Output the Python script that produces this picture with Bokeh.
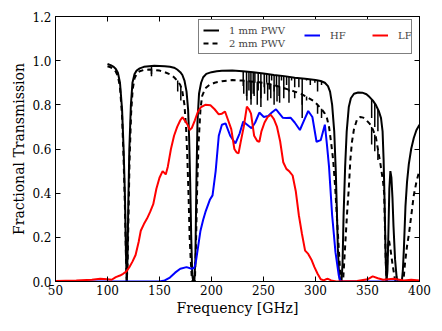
from bokeh.plotting import figure
from bokeh.models import (LinearAxis, Legend, LegendItem, PrintfTickFormatter, FixedTicker, Range1d,
                          CustomLabelingPolicy)
from bokeh.embed import file_html
from bokeh.resources import INLINE

# ---------------- data ----------------
pwv1_freq = [100, 103, 106, 108, 110, 112, 114, 115.5, 116.8, 117.8, 118.5, 119.2, 120, 121, 122.5, 124, 126, 128,
             131, 135, 140, 145, 150, 155, 160, 164, 167, 170, 172, 174, 176, 177.5, 178.5, 179.5, 180.5, 181.5,
             182.5, 183.5, 184.5, 185.5, 186.5, 188, 190, 192, 195, 200, 205, 210, 220, 230, 240, 250, 260, 270,
             280, 290, 300, 305, 309, 312, 314, 316, 318, 319.5, 320.5, 321.5, 322.5, 323.5, 325, 326, 327, 328.5,
             330, 332, 334, 337, 341, 345, 349, 352, 355, 358, 361, 363, 364.5, 365.5, 366.5, 367.5, 368.3, 369.2,
             370, 371, 372, 373, 374, 375, 376.5, 378, 379, 383, 384, 385, 386.5, 388, 389.7, 392, 394.5, 397, 400]
pwv1_trans = [0.985, 0.98, 0.972, 0.962, 0.945, 0.90, 0.78, 0.6, 0.38, 0.12, 0.0, 0.1, 0.35, 0.6, 0.8, 0.9, 0.94, 0.955,
              0.965, 0.972, 0.975, 0.977, 0.976, 0.975, 0.972, 0.968, 0.96, 0.948, 0.935, 0.91, 0.86, 0.78, 0.65, 0.45,
              0.2, 0.03, 0.0, 0.0, 0.1, 0.45, 0.72, 0.85, 0.9, 0.925, 0.94, 0.948, 0.952, 0.954, 0.955, 0.952, 0.948,
              0.942, 0.935, 0.93, 0.923, 0.918, 0.912, 0.908, 0.9, 0.885, 0.86, 0.8, 0.68, 0.5, 0.33, 0.15, 0.05, 0.0,
              0.0, 0.08, 0.3, 0.52, 0.68, 0.79, 0.83, 0.85, 0.856, 0.855, 0.848, 0.835, 0.82, 0.8, 0.77, 0.74, 0.68,
              0.55, 0.35, 0.1, 0.0, 0.05, 0.2, 0.42, 0.5, 0.47, 0.38, 0.25, 0.1, 0.02, 0.0, 0.0, 0.05, 0.15, 0.34,
              0.45, 0.53, 0.6, 0.65, 0.685, 0.71]

pwv2_freq = [100, 103, 106, 108, 110, 112, 114, 115.5, 116.8, 117.8, 118.5, 119.3, 120.2, 121.2, 122.7, 124.2, 126,
             128, 131, 135, 140, 145, 150, 155, 160, 164, 167, 170, 172, 174, 175.5, 176.7, 178, 179, 180, 181, 182,
             184, 185, 186.2, 187.5, 189.4, 191, 194, 198, 203, 210, 220, 230, 240, 250, 260, 270, 280, 286, 292,
             298, 302, 306, 309, 311, 313, 315, 317, 319, 320.5, 322, 323.5, 324.5, 326.5, 327.5, 329, 330.5, 332,
             333.5, 335, 337, 340, 343, 346, 349, 352, 355, 358, 360, 362.5, 365, 366, 367.5, 368.3, 369.2, 370.5,
             372, 374, 376, 377, 384.5, 386, 388, 390, 394.5, 397, 400]
pwv2_trans = [0.975, 0.97, 0.962, 0.95, 0.93, 0.88, 0.75, 0.55, 0.33, 0.1, 0.0, 0.08, 0.3, 0.55, 0.76, 0.87, 0.92,
              0.94, 0.952, 0.958, 0.96, 0.958, 0.955, 0.948, 0.938, 0.925, 0.91, 0.89, 0.86, 0.8, 0.7, 0.57, 0.38,
              0.2, 0.1, 0.02, 0.0, 0.0, 0.15, 0.42, 0.62, 0.78, 0.84, 0.875, 0.89, 0.9, 0.907, 0.912, 0.91, 0.905,
              0.9, 0.89, 0.875, 0.86, 0.85, 0.835, 0.818, 0.8, 0.78, 0.76, 0.74, 0.7, 0.63, 0.55, 0.42, 0.3, 0.18,
              0.06, 0.0, 0.0, 0.08, 0.2, 0.32, 0.42, 0.55, 0.63, 0.69, 0.735, 0.745, 0.742, 0.73, 0.715, 0.69, 0.655,
              0.6, 0.53, 0.45, 0.4, 0.1, 0.0, 0.12, 0.19, 0.15, 0.08, 0.02, 0.0, 0.0, 0.08, 0.16, 0.22, 0.39, 0.45,
              0.505]

# narrow absorption lines (frequency, continuum level, line bottom)
pwv1_line_freq = [142.3, 230.5, 233.7, 236.0, 237.9, 240.1, 241.7, 244.9, 247.5, 250.7, 253.0, 255.5, 257.8, 260.2,
                  262.5, 265.0, 267.3, 269.5, 272.2, 274.5, 277.0, 280.0, 284.0, 287.2, 291.4, 295.0, 299.4, 302.0,
                  305.8, 354.0, 357.0, 360.0]
pwv1_line_top = [0.977, 0.952, 0.951, 0.95, 0.949, 0.948, 0.947, 0.945, 0.944, 0.942, 0.94, 0.939, 0.938, 0.935,
                 0.934, 0.933, 0.932, 0.93, 0.929, 0.928, 0.926, 0.923, 0.921, 0.92, 0.917, 0.915, 0.912, 0.911,
                 0.908, 0.825, 0.805, 0.78]
pwv1_line_bottom = [0.94, 0.885, 0.84, 0.865, 0.825, 0.85, 0.90, 0.865, 0.83, 0.88, 0.90, 0.87, 0.91, 0.86, 0.88,
                    0.84, 0.91, 0.87, 0.89, 0.86, 0.91, 0.88, 0.88, 0.80, 0.91, 0.89, 0.90, 0.86, 0.89, 0.74, 0.70,
                    0.68]

pwv2_line_freq = [142.3, 167.5, 170.5, 231, 234, 238, 241, 244, 247.5, 251, 254, 257, 260.2, 263, 265.5, 269.5,
                  274.5, 280, 287.2, 291.4, 302, 305.8, 354, 357, 360]
pwv2_line_top = [0.958, 0.91, 0.885, 0.91, 0.909, 0.906, 0.905, 0.904, 0.902, 0.9, 0.897, 0.894, 0.89, 0.886, 0.883,
                 0.877, 0.87, 0.86, 0.848, 0.838, 0.80, 0.782, 0.70, 0.665, 0.6]
pwv2_line_bottom = [0.93, 0.86, 0.82, 0.85, 0.82, 0.80, 0.84, 0.80, 0.79, 0.85, 0.82, 0.83, 0.80, 0.815, 0.81, 0.83,
                    0.81, 0.83, 0.74, 0.82, 0.76, 0.74, 0.62, 0.59, 0.55]

hf_freq = [50, 150, 155, 160, 165, 170, 176, 181, 183.5, 185, 189.4, 192, 194.2, 198.4, 201, 204, 207, 210, 213.5,
           218, 223, 227, 230.5, 234.3, 238.5, 242, 246, 250.3, 254.5, 258, 262, 265, 268.5, 272, 276, 280, 285,
           289, 293, 297, 301, 305, 309, 311, 313, 316, 319.2, 322.4, 324, 400]
hf_trans = [0.0, 0.0, 0.005, 0.018, 0.04, 0.058, 0.065, 0.058, 0.062, 0.09, 0.23, 0.28, 0.315, 0.37, 0.39, 0.5,
            0.66, 0.71, 0.716, 0.66, 0.625, 0.67, 0.724, 0.71, 0.694, 0.72, 0.765, 0.745, 0.75, 0.765, 0.78, 0.762,
            0.742, 0.74, 0.742, 0.72, 0.686, 0.73, 0.772, 0.745, 0.633, 0.64, 0.71, 0.62, 0.52, 0.3, 0.133, 0.027,
            0.0, 0.0]

lf_freq = [50, 70, 85, 93, 100, 104, 108, 112, 115, 118, 121, 124, 127, 130, 132, 135, 138, 141, 144, 147, 150, 153,
           156, 158, 161, 164, 167, 170, 172, 175, 177, 179, 181, 184, 187, 190, 194, 199, 203, 207, 210, 213, 216,
           219, 222, 224, 226, 228, 231, 234, 236, 238, 241, 244, 246, 248, 251, 254, 257, 260, 263, 266, 269, 272,
           275, 278, 281, 284, 287, 290, 293, 296, 299, 302, 305, 308, 310, 312, 315, 320, 340, 350, 355, 360, 365,
           375, 385, 392, 400]
lf_trans = [0.002, 0.004, 0.008, 0.012, 0.01, 0.008, 0.02, 0.027, 0.035, 0.045, 0.065, 0.09, 0.12, 0.18, 0.23, 0.26,
            0.285, 0.315, 0.35, 0.42, 0.47, 0.5, 0.485, 0.52, 0.6, 0.66, 0.7, 0.73, 0.744, 0.725, 0.71, 0.686, 0.695,
            0.73, 0.77, 0.79, 0.8, 0.798, 0.78, 0.757, 0.76, 0.77, 0.73, 0.69, 0.6, 0.585, 0.58, 0.63, 0.7, 0.792,
            0.78, 0.76, 0.66, 0.636, 0.633, 0.68, 0.72, 0.745, 0.755, 0.735, 0.7, 0.635, 0.54, 0.51, 0.498, 0.48,
            0.41, 0.3, 0.215, 0.14, 0.125, 0.1, 0.065, 0.035, 0.01, 0.005, 0.01, 0.012, 0.005, 0.0, 0.002, 0.01,
            0.023, 0.015, 0.008, 0.012, 0.005, 0.008, 0.004]

x_ticks = [50, 100, 150, 200, 250, 300, 350, 400]
y_ticks = [0.0, 0.2, 0.4, 0.6, 0.8, 1.0, 1.2]

label_1mm = "1 mm PWV"
label_2mm = "2 mm PWV"
label_hf = "HF"
label_lf = "LF"

# ---------------- figure ----------------
FONT = "DejaVu Serif"

p = figure(width=434, height=323, output_backend="svg", toolbar_location=None,
           x_range=Range1d(50, 400), y_range=Range1d(0, 1.2),
           min_border_left=55, min_border_right=15, min_border_top=16, min_border_bottom=42,
           background_fill_color="white", border_fill_color="white")
p.grid.visible = False
p.outline_line_color = "black"
p.outline_line_width = 1

p.xaxis.axis_label = "Frequency [GHz]"
p.yaxis.axis_label = "Fractional Transmission"
for ax in (p.xaxis[0], p.yaxis[0]):
    ax.axis_label_text_font = FONT
    ax.axis_label_text_font_style = "normal"
    ax.axis_label_text_font_size = "14px"
    ax.major_label_text_font = FONT
    ax.major_label_text_font_size = "12px"
    ax.major_tick_in = 5
    ax.major_tick_out = 0
    ax.minor_tick_line_color = None
    ax.axis_line_color = "black"
    ax.major_tick_line_color = "black"
    ax.major_label_text_color = "black"
    ax.axis_label_text_color = "black"
p.xaxis.ticker = FixedTicker(ticks=x_ticks)
p.yaxis.ticker = FixedTicker(ticks=y_ticks)
p.yaxis.formatter = PrintfTickFormatter(format="%.1f")
p.xaxis.major_label_standoff = 3
p.xaxis.axis_label_standoff = 2
p.yaxis.major_label_standoff = 4
p.yaxis.axis_label_standoff = 2

hide_all = "for (const i of Array.from(indices)) indices.unset(i)"
top_ax = LinearAxis(ticker=FixedTicker(ticks=x_ticks), major_label_text_font_size="1px",
                    major_label_policy=CustomLabelingPolicy(code=hide_all),
                    major_label_standoff=0,
                    major_tick_in=5, major_tick_out=0, minor_tick_line_color=None)
right_ax = LinearAxis(ticker=FixedTicker(ticks=y_ticks), major_label_text_font_size="1px",
                      major_label_policy=CustomLabelingPolicy(code=hide_all),
                      major_label_standoff=0,
                      major_tick_in=5, major_tick_out=0, minor_tick_line_color=None)
p.add_layout(top_ax, "above")
p.add_layout(right_ax, "right")

# ---------------- glyphs ----------------
r1 = p.line(pwv1_freq, pwv1_trans, line_color="black", line_width=2)
p.segment(x0=pwv1_line_freq, y0=pwv1_line_top, x1=pwv1_line_freq, y1=pwv1_line_bottom,
          line_color="black", line_width=1.5)
r2 = p.line(pwv2_freq, pwv2_trans, line_color="black", line_width=2, line_dash="5 4")
p.segment(x0=pwv2_line_freq, y0=pwv2_line_top, x1=pwv2_line_freq, y1=pwv2_line_bottom,
          line_color="black", line_width=1.5)
rh = p.line(hf_freq, hf_trans, line_color="#0000ff", line_width=2)
rl = p.line(lf_freq, lf_trans, line_color="#ff0000", line_width=2)

# legend: first column (PWV) holds the framed box, HF / LF sit in the top row
legend_pwv = Legend(items=[LegendItem(label=label_1mm, renderers=[r1]),
                           LegendItem(label=label_2mm, renderers=[r2])],
                    orientation="vertical", location=(143, 227), margin=0, padding=4, spacing=1,
                    glyph_width=16, glyph_height=12, label_standoff=10, label_height=12, label_width=178,
                    label_text_font=FONT, label_text_font_size="10px",
                    border_line_color="black", border_line_width=1,
                    background_fill_color="white", background_fill_alpha=1.0)
legend_bands = Legend(items=[LegendItem(label=label_hf, renderers=[rh]),
                             LegendItem(label=label_lf, renderers=[rl])],
                      orientation="horizontal", location=(249, 240), margin=0, padding=4, spacing=22,
                      glyph_width=16, glyph_height=12, label_standoff=10, label_height=12,
                      label_text_font=FONT, label_text_font_size="10px",
                      border_line_color=None, background_fill_alpha=0.0)
p.add_layout(legend_pwv, "center")
p.add_layout(legend_bands, "center")

open("out.html", "w").write(file_html(p, INLINE))
